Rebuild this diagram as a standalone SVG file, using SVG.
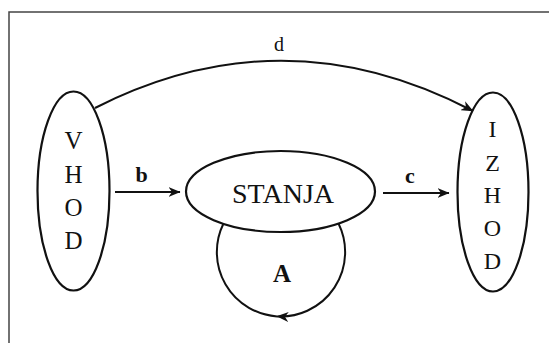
<svg xmlns="http://www.w3.org/2000/svg" width="549" height="343" viewBox="0 0 549 343">
<style>
.node{fill:none;stroke:#111;stroke-width:2.2}
.edge{fill:none;stroke:#111;stroke-width:2}
.t{font-family:"Liberation Serif","Times New Roman",serif;fill:#111;text-anchor:middle}
.col{font-size:25px}
.lbl{font-size:22px;font-weight:bold}
</style>
<defs>
<marker id="arr" viewBox="0 0 12 10" refX="11.5" refY="5" markerWidth="12" markerHeight="10" markerUnits="userSpaceOnUse" orient="auto">
<path d="M0,0 L12,5 L0,10 L3.5,5 z" fill="#111"/>
</marker>
</defs>
<rect width="549" height="343" fill="#fff"/>
<path d="M9,343 V12 H549" fill="none" stroke="#444" stroke-width="1.5"/>
<g id="vhod">
<ellipse class="node" cx="73.5" cy="191" rx="36" ry="99.5"/>
<text class="t col" x="73.5" y="149">V</text>
<text class="t col" x="73.5" y="183">H</text>
<text class="t col" x="73.5" y="216">O</text>
<text class="t col" x="73.5" y="249">D</text>
</g>
<g id="stanja">
<ellipse class="node" cx="280.5" cy="191.5" rx="94.5" ry="40.5"/>
<text class="t" x="283" y="203" font-size="28">STANJA</text>
</g>
<g id="izhod">
<ellipse class="node" cx="493" cy="192" rx="35.5" ry="99.5"/>
<text class="t" x="492.5" y="137" font-size="24">I</text>
<text class="t" x="492.5" y="171" font-size="24">Z</text>
<text class="t" x="492.5" y="203" font-size="24">H</text>
<text class="t" x="492.5" y="236" font-size="24">O</text>
<text class="t" x="492.5" y="269" font-size="24">D</text>
</g>
<g id="connectors">
<path class="edge" d="M95,108 Q284,12 473,111" marker-end="url(#arr)"/>
<text class="t" x="279" y="51" font-size="20">d</text>
<path class="edge" d="M115,192 H180" marker-end="url(#arr)"/>
<text class="t lbl" x="141.5" y="182">b</text>
<path class="edge" d="M383,193 H449" marker-end="url(#arr)"/>
<text class="t lbl" x="410" y="183">c</text>
<path class="edge" d="M338.5,223.5 A64.5,64.5 0 0 1 277,316.4" marker-end="url(#arr)"/>
<path class="edge" d="M277,316.4 A64.5,64.5 0 0 1 223.5,223.5"/>
<text class="t" x="282" y="282" font-size="25" font-weight="bold">A</text>
</g>
</svg>
